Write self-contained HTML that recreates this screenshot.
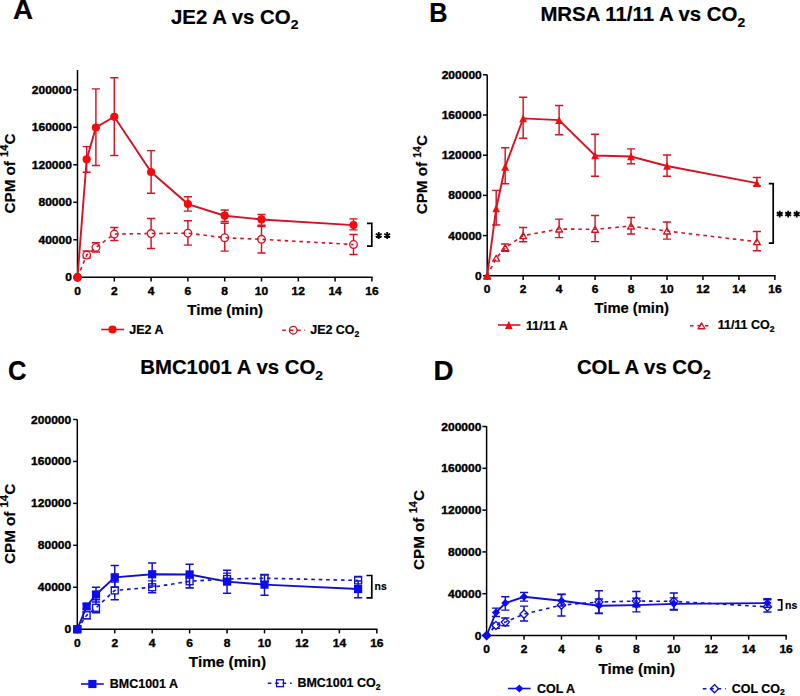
<!DOCTYPE html><html><head><meta charset="utf-8"><style>html,body{margin:0;padding:0;background:#fff;}svg{display:block;}text{font-family:"Liberation Sans", sans-serif;font-weight:bold;fill:#000;stroke:#000;stroke-width:0.2px;}.tl{font-size:11.8px;stroke-width:0.4px;}.lg{font-size:12px;}.xl{font-size:14.6px;}.yl{font-size:15.2px;}.pl{font-size:27.8px;}.st{font-size:19px;}.ns{font-size:11px;}</style></head><body>
<svg width="800" height="696" viewBox="0 0 800 696">
<rect width="800" height="696" fill="#fff"/>
<text transform="translate(12.9 19.25) scale(1 1)" class="pl">A</text>
<text transform="translate(171 23.8) scale(1.04 1)" class="tt" font-size="19.6">JE2 A vs CO<tspan font-size="13.33" dy="5.6">2</tspan></text>
<text transform="translate(15.1 173.5) rotate(-90)" text-anchor="middle" class="yl" font-size="14.95">CPM of <tspan font-size="11.06" dy="-6.88">14</tspan><tspan dy="6.88">C</tspan></text>
<path d="M77.5 70V277.3" stroke="#000" stroke-width="1.5" fill="none"/>
<path d="M76.75 277.3H372.65" stroke="#000" stroke-width="1.5" fill="none"/>
<path d="M73.3 277.3H77.5" stroke="#000" stroke-width="1.5"/>
<text transform="translate(71.9 281.3) scale(1.02 1)" class="tl" text-anchor="end">0</text>
<path d="M73.3 239.8H77.5" stroke="#000" stroke-width="1.5"/>
<text transform="translate(71.9 243.8) scale(1.02 1)" class="tl" text-anchor="end">40000</text>
<path d="M73.3 202.3H77.5" stroke="#000" stroke-width="1.5"/>
<text transform="translate(71.9 206.3) scale(1.02 1)" class="tl" text-anchor="end">80000</text>
<path d="M73.3 164.8H77.5" stroke="#000" stroke-width="1.5"/>
<text transform="translate(71.9 168.8) scale(1.02 1)" class="tl" text-anchor="end">120000</text>
<path d="M73.3 127.3H77.5" stroke="#000" stroke-width="1.5"/>
<text transform="translate(71.9 131.3) scale(1.02 1)" class="tl" text-anchor="end">160000</text>
<path d="M73.3 89.8H77.5" stroke="#000" stroke-width="1.5"/>
<text transform="translate(71.9 93.8) scale(1.02 1)" class="tl" text-anchor="end">200000</text>
<path d="M77.5 277.3V281.5" stroke="#000" stroke-width="1.5"/>
<text transform="translate(77.5 294.5) scale(1.02 1)" class="tl" text-anchor="middle">0</text>
<path d="M114.3 277.3V281.5" stroke="#000" stroke-width="1.5"/>
<text transform="translate(114.3 294.5) scale(1.02 1)" class="tl" text-anchor="middle">2</text>
<path d="M151.1 277.3V281.5" stroke="#000" stroke-width="1.5"/>
<text transform="translate(151.1 294.5) scale(1.02 1)" class="tl" text-anchor="middle">4</text>
<path d="M187.9 277.3V281.5" stroke="#000" stroke-width="1.5"/>
<text transform="translate(187.9 294.5) scale(1.02 1)" class="tl" text-anchor="middle">6</text>
<path d="M224.7 277.3V281.5" stroke="#000" stroke-width="1.5"/>
<text transform="translate(224.7 294.5) scale(1.02 1)" class="tl" text-anchor="middle">8</text>
<path d="M261.5 277.3V281.5" stroke="#000" stroke-width="1.5"/>
<text transform="translate(261.5 294.5) scale(1.02 1)" class="tl" text-anchor="middle">10</text>
<path d="M298.3 277.3V281.5" stroke="#000" stroke-width="1.5"/>
<text transform="translate(298.3 294.5) scale(1.02 1)" class="tl" text-anchor="middle">12</text>
<path d="M335.1 277.3V281.5" stroke="#000" stroke-width="1.5"/>
<text transform="translate(335.1 294.5) scale(1.02 1)" class="tl" text-anchor="middle">14</text>
<path d="M371.9 277.3V281.5" stroke="#000" stroke-width="1.5"/>
<text transform="translate(371.9 294.5) scale(1.02 1)" class="tl" text-anchor="middle">16</text>
<text transform="translate(187.35 314.75) scale(1.03 1)" class="xl">Time (min)</text>
<path d="M86.7 251.05V258.08 M82.6 251.05H90.8 M82.6 258.08H90.8" stroke="#d41424" stroke-width="1.45" fill="none"/>
<path d="M95.9 242.71V252.08 M91.8 242.71H100 M91.8 252.08H100" stroke="#d41424" stroke-width="1.45" fill="none"/>
<path d="M114.3 227.52V240.46 M110.2 227.52H118.4 M110.2 240.46H118.4" stroke="#d41424" stroke-width="1.45" fill="none"/>
<path d="M151.1 218.52V248.52 M147 218.52H155.2 M147 248.52H155.2" stroke="#d41424" stroke-width="1.45" fill="none"/>
<path d="M187.9 220.68V245.14 M183.8 220.68H192 M183.8 245.14H192" stroke="#d41424" stroke-width="1.45" fill="none"/>
<path d="M224.7 223.3V251.14 M220.6 223.3H228.8 M220.6 251.14H228.8" stroke="#d41424" stroke-width="1.45" fill="none"/>
<path d="M261.5 226.49V252.93 M257.4 226.49H265.6 M257.4 252.93H265.6" stroke="#d41424" stroke-width="1.45" fill="none"/>
<path d="M353.5 234.55V254.52 M349.4 234.55H357.6 M349.4 254.52H357.6" stroke="#d41424" stroke-width="1.45" fill="none"/>
<circle cx="77.5" cy="277.3" r="3.8" fill="#fff" stroke="#d41424" stroke-width="1.35"/>
<circle cx="86.7" cy="255.08" r="3.8" fill="#fff" stroke="#d41424" stroke-width="1.35"/>
<circle cx="95.9" cy="247.49" r="3.8" fill="#fff" stroke="#d41424" stroke-width="1.35"/>
<circle cx="114.3" cy="234.08" r="3.8" fill="#fff" stroke="#d41424" stroke-width="1.35"/>
<circle cx="151.1" cy="233.52" r="3.8" fill="#fff" stroke="#d41424" stroke-width="1.35"/>
<circle cx="187.9" cy="233.14" r="3.8" fill="#fff" stroke="#d41424" stroke-width="1.35"/>
<circle cx="224.7" cy="237.74" r="3.8" fill="#fff" stroke="#d41424" stroke-width="1.35"/>
<circle cx="261.5" cy="239.33" r="3.8" fill="#fff" stroke="#d41424" stroke-width="1.35"/>
<circle cx="353.5" cy="244.49" r="3.8" fill="#fff" stroke="#d41424" stroke-width="1.35"/>
<path d="M77.5 277.3 L86.7 255.08 L95.9 247.49 L114.3 234.08 L151.1 233.52 L187.9 233.14 L224.7 237.74 L261.5 239.33 L353.5 244.49" stroke="#d41424" stroke-width="1.6" fill="none" stroke-dasharray="3.6 3.8"/>
<path d="M86.7 146.61V172.21 M82.6 146.61H90.8 M82.6 172.21H90.8" stroke="#d41424" stroke-width="1.45" fill="none"/>
<path d="M95.9 88.86V165.5 M91.8 88.86H100 M91.8 165.5H100" stroke="#d41424" stroke-width="1.45" fill="none"/>
<path d="M114.3 77.8V155.52 M110.2 77.8H118.4 M110.2 155.52H118.4" stroke="#d41424" stroke-width="1.45" fill="none"/>
<path d="M151.1 150.64V193.3 M147 150.64H155.2 M147 193.3H155.2" stroke="#d41424" stroke-width="1.45" fill="none"/>
<path d="M187.9 196.68V211.11 M183.8 196.68H192 M183.8 211.11H192" stroke="#d41424" stroke-width="1.45" fill="none"/>
<path d="M224.7 210.08V221.52 M220.6 210.08H228.8 M220.6 221.52H228.8" stroke="#d41424" stroke-width="1.45" fill="none"/>
<path d="M261.5 214.49V225.27 M257.4 214.49H265.6 M257.4 225.27H265.6" stroke="#d41424" stroke-width="1.45" fill="none"/>
<path d="M353.5 218.89V229.86 M349.4 218.89H357.6 M349.4 229.86H357.6" stroke="#d41424" stroke-width="1.45" fill="none"/>
<path d="M77.5 277.3 L86.7 159.27 L95.9 127.49 L114.3 116.8 L151.1 172.02 L187.9 204.08 L224.7 215.71 L261.5 219.46 L353.5 225.08" stroke="#d41424" stroke-width="1.9" fill="none"/>
<circle cx="77.5" cy="277.3" r="4.1" fill="#f20c0c"/>
<circle cx="86.7" cy="159.27" r="4.1" fill="#f20c0c"/>
<circle cx="95.9" cy="127.49" r="4.1" fill="#f20c0c"/>
<circle cx="114.3" cy="116.8" r="4.1" fill="#f20c0c"/>
<circle cx="151.1" cy="172.02" r="4.1" fill="#f20c0c"/>
<circle cx="187.9" cy="204.08" r="4.1" fill="#f20c0c"/>
<circle cx="224.7" cy="215.71" r="4.1" fill="#f20c0c"/>
<circle cx="261.5" cy="219.46" r="4.1" fill="#f20c0c"/>
<circle cx="353.5" cy="225.08" r="4.1" fill="#f20c0c"/>
<path d="M367 223.4H371.8V246.1H367" stroke="#000" stroke-width="1.7" fill="none"/>
<path d="M378.7 232.1L378.7 238.9M375.76 233.8L381.64 237.2M375.76 237.2L381.64 233.8" stroke="#000" stroke-width="1.8" fill="none"/>
<path d="M387.2 232.1L387.2 238.9M384.26 233.8L390.14 237.2M384.26 237.2L390.14 233.8" stroke="#000" stroke-width="1.8" fill="none"/>
<path d="M101.2 329.5H124.2" stroke="#d41424" stroke-width="1.6"/>
<circle cx="112.5" cy="329.5" r="4.1" fill="#f20c0c"/>
<text transform="translate(129.2 334) scale(1.04 1)" class="lg">JE2 A</text>
<circle cx="293.2" cy="330.2" r="3.8" fill="#fff" stroke="#d41424" stroke-width="1.35"/>
<path d="M282.3 330.2H305.2" stroke="#d41424" stroke-width="1.6" stroke-dasharray="3.6 3.8"/>
<text transform="translate(310.2 334) scale(1.04 1)" class="lg">JE2 CO<tspan font-size="8.3" dy="2.6">2</tspan></text>
<text transform="translate(429.35 21.9) scale(0.91 1)" class="pl">B</text>
<text transform="translate(540.4 21) scale(1.04 1)" class="tt" font-size="19.6">MRSA 11/11 A vs CO<tspan font-size="13.33" dy="5.6">2</tspan></text>
<text transform="translate(427.1 174.7) rotate(-90)" text-anchor="middle" class="yl" font-size="14.1">CPM of <tspan font-size="10.43" dy="-6.49">14</tspan><tspan dy="6.49">C</tspan></text>
<path d="M487.2 74.8V275.8" stroke="#000" stroke-width="1.5" fill="none"/>
<path d="M486.45 275.8H775.63" stroke="#000" stroke-width="1.5" fill="none"/>
<path d="M483 275.8H487.2" stroke="#000" stroke-width="1.5"/>
<text transform="translate(481.8 279.8) scale(1.02 1)" class="tl" text-anchor="end">0</text>
<path d="M483 235.6H487.2" stroke="#000" stroke-width="1.5"/>
<text transform="translate(481.8 239.6) scale(1.02 1)" class="tl" text-anchor="end">40000</text>
<path d="M483 195.4H487.2" stroke="#000" stroke-width="1.5"/>
<text transform="translate(481.8 199.4) scale(1.02 1)" class="tl" text-anchor="end">80000</text>
<path d="M483 155.2H487.2" stroke="#000" stroke-width="1.5"/>
<text transform="translate(481.8 159.2) scale(1.02 1)" class="tl" text-anchor="end">120000</text>
<path d="M483 115H487.2" stroke="#000" stroke-width="1.5"/>
<text transform="translate(481.8 119) scale(1.02 1)" class="tl" text-anchor="end">160000</text>
<path d="M483 74.8H487.2" stroke="#000" stroke-width="1.5"/>
<text transform="translate(481.8 78.8) scale(1.02 1)" class="tl" text-anchor="end">200000</text>
<path d="M487.2 275.8V280" stroke="#000" stroke-width="1.5"/>
<text transform="translate(487.2 292.8) scale(1.02 1)" class="tl" text-anchor="middle">0</text>
<path d="M523.16 275.8V280" stroke="#000" stroke-width="1.5"/>
<text transform="translate(523.16 292.8) scale(1.02 1)" class="tl" text-anchor="middle">2</text>
<path d="M559.12 275.8V280" stroke="#000" stroke-width="1.5"/>
<text transform="translate(559.12 292.8) scale(1.02 1)" class="tl" text-anchor="middle">4</text>
<path d="M595.08 275.8V280" stroke="#000" stroke-width="1.5"/>
<text transform="translate(595.08 292.8) scale(1.02 1)" class="tl" text-anchor="middle">6</text>
<path d="M631.04 275.8V280" stroke="#000" stroke-width="1.5"/>
<text transform="translate(631.04 292.8) scale(1.02 1)" class="tl" text-anchor="middle">8</text>
<path d="M667 275.8V280" stroke="#000" stroke-width="1.5"/>
<text transform="translate(667 292.8) scale(1.02 1)" class="tl" text-anchor="middle">10</text>
<path d="M702.96 275.8V280" stroke="#000" stroke-width="1.5"/>
<text transform="translate(702.96 292.8) scale(1.02 1)" class="tl" text-anchor="middle">12</text>
<path d="M738.92 275.8V280" stroke="#000" stroke-width="1.5"/>
<text transform="translate(738.92 292.8) scale(1.02 1)" class="tl" text-anchor="middle">14</text>
<path d="M774.88 275.8V280" stroke="#000" stroke-width="1.5"/>
<text transform="translate(774.88 292.8) scale(1.02 1)" class="tl" text-anchor="middle">16</text>
<text transform="translate(594.6 312.5) scale(1.01 1)" class="xl">Time (min)</text>
<path d="M505.18 244.04V251.18 M501.08 244.04H509.28 M501.08 251.18H509.28" stroke="#d41424" stroke-width="1.45" fill="none"/>
<path d="M523.16 227.56V241.83 M519.06 227.56H527.26 M519.06 241.83H527.26" stroke="#d41424" stroke-width="1.45" fill="none"/>
<path d="M559.12 219.12V237.61 M555.02 219.12H563.22 M555.02 237.61H563.22" stroke="#d41424" stroke-width="1.45" fill="none"/>
<path d="M595.08 215.5V241.63 M590.98 215.5H599.18 M590.98 241.63H599.18" stroke="#d41424" stroke-width="1.45" fill="none"/>
<path d="M631.04 217.51V234.09 M626.94 217.51H635.14 M626.94 234.09H635.14" stroke="#d41424" stroke-width="1.45" fill="none"/>
<path d="M667 221.93V239.12 M662.9 221.93H671.1 M662.9 239.12H671.1" stroke="#d41424" stroke-width="1.45" fill="none"/>
<path d="M756.9 231.58V250.68 M752.8 231.58H761 M752.8 250.68H761" stroke="#d41424" stroke-width="1.45" fill="none"/>
<path d="M487.2 272.85 L490.65 278.75 L483.75 278.75Z" fill="#fff" stroke="#d41424" stroke-width="1.35" stroke-linejoin="round"/>
<path d="M496.19 255.26 L499.64 261.16 L492.74 261.16Z" fill="#fff" stroke="#d41424" stroke-width="1.35" stroke-linejoin="round"/>
<path d="M505.18 244.81 L508.63 250.71 L501.73 250.71Z" fill="#fff" stroke="#d41424" stroke-width="1.35" stroke-linejoin="round"/>
<path d="M523.16 232.65 L526.61 238.55 L519.71 238.55Z" fill="#fff" stroke="#d41424" stroke-width="1.35" stroke-linejoin="round"/>
<path d="M559.12 226.12 L562.57 232.02 L555.67 232.02Z" fill="#fff" stroke="#d41424" stroke-width="1.35" stroke-linejoin="round"/>
<path d="M595.08 226.32 L598.53 232.22 L591.63 232.22Z" fill="#fff" stroke="#d41424" stroke-width="1.35" stroke-linejoin="round"/>
<path d="M631.04 223.1 L634.49 229 L627.59 229Z" fill="#fff" stroke="#d41424" stroke-width="1.35" stroke-linejoin="round"/>
<path d="M667 228.13 L670.45 234.03 L663.55 234.03Z" fill="#fff" stroke="#d41424" stroke-width="1.35" stroke-linejoin="round"/>
<path d="M756.9 238.78 L760.35 244.68 L753.45 244.68Z" fill="#fff" stroke="#d41424" stroke-width="1.35" stroke-linejoin="round"/>
<path d="M487.2 275.8 L496.19 258.21 L505.18 247.76 L523.16 235.6 L559.12 229.07 L595.08 229.27 L631.04 226.05 L667 231.08 L756.9 241.73" stroke="#d41424" stroke-width="1.6" fill="none" stroke-dasharray="3.6 3.8"/>
<path d="M496.19 190.38V224.95 M492.09 190.38H500.29 M492.09 224.95H500.29" stroke="#d41424" stroke-width="1.45" fill="none"/>
<path d="M505.18 147.66V183.84 M501.08 147.66H509.28 M501.08 183.84H509.28" stroke="#d41424" stroke-width="1.45" fill="none"/>
<path d="M523.16 97.31V138.22 M519.06 97.31H527.26 M519.06 138.22H527.26" stroke="#d41424" stroke-width="1.45" fill="none"/>
<path d="M559.12 105.55V134.8 M555.02 105.55H563.22 M555.02 134.8H563.22" stroke="#d41424" stroke-width="1.45" fill="none"/>
<path d="M595.08 134.3V176.2 M590.98 134.3H599.18 M590.98 176.2H599.18" stroke="#d41424" stroke-width="1.45" fill="none"/>
<path d="M631.04 148.87V163.74 M626.94 148.87H635.14 M626.94 163.74H635.14" stroke="#d41424" stroke-width="1.45" fill="none"/>
<path d="M667 154.9V176.2 M662.9 154.9H671.1 M662.9 176.2H671.1" stroke="#d41424" stroke-width="1.45" fill="none"/>
<path d="M756.9 177.41V185.85 M752.8 177.41H761 M752.8 185.85H761" stroke="#d41424" stroke-width="1.45" fill="none"/>
<path d="M487.2 275.8 L496.19 208.47 L505.18 166.76 L523.16 118.42 L559.12 120.13 L595.08 155.45 L631.04 156.46 L667 165.95 L756.9 183.14" stroke="#d41424" stroke-width="1.9" fill="none"/>
<path d="M487.2 271.9 L491.1 279.7 L483.3 279.7Z" fill="#f20c0c"/>
<path d="M496.19 204.56 L500.09 212.37 L492.29 212.37Z" fill="#f20c0c"/>
<path d="M505.18 162.86 L509.08 170.66 L501.28 170.66Z" fill="#f20c0c"/>
<path d="M523.16 114.52 L527.06 122.32 L519.26 122.32Z" fill="#f20c0c"/>
<path d="M559.12 116.23 L563.02 124.03 L555.22 124.03Z" fill="#f20c0c"/>
<path d="M595.08 151.55 L598.98 159.35 L591.18 159.35Z" fill="#f20c0c"/>
<path d="M631.04 152.56 L634.94 160.36 L627.14 160.36Z" fill="#f20c0c"/>
<path d="M667 162.05 L670.9 169.85 L663.1 169.85Z" fill="#f20c0c"/>
<path d="M756.9 179.24 L760.8 187.04 L753 187.04Z" fill="#f20c0c"/>
<path d="M768.8 183.7H773.2V243.1H768.8" stroke="#000" stroke-width="1.7" fill="none"/>
<path d="M779.7 210.7L779.7 217.5M776.76 212.4L782.64 215.8M776.76 215.8L782.64 212.4" stroke="#000" stroke-width="1.8" fill="none"/>
<path d="M788.2 210.7L788.2 217.5M785.26 212.4L791.14 215.8M785.26 215.8L791.14 212.4" stroke="#000" stroke-width="1.8" fill="none"/>
<path d="M796.7 210.7L796.7 217.5M793.76 212.4L799.64 215.8M793.76 215.8L799.64 212.4" stroke="#000" stroke-width="1.8" fill="none"/>
<path d="M497.9 325H520.4" stroke="#d41424" stroke-width="1.6"/>
<path d="M508.8 321.1 L512.7 328.9 L504.9 328.9Z" fill="#f20c0c"/>
<text transform="translate(526 329.7) scale(1.04 1)" class="lg">11/11 A</text>
<path d="M701.5 322.85 L704.95 328.75 L698.05 328.75Z" fill="#fff" stroke="#d41424" stroke-width="1.35" stroke-linejoin="round"/>
<path d="M690 325.8H712.4" stroke="#d41424" stroke-width="1.6" stroke-dasharray="3.6 3.8"/>
<text transform="translate(717.7 329.4) scale(1.04 1)" class="lg">11/11 CO<tspan font-size="8.3" dy="2.6">2</tspan></text>
<text transform="translate(7.9 379.6) scale(0.92 1)" class="pl">C</text>
<text transform="translate(140.2 374.2) scale(1.04 1)" class="tt" font-size="19.6">BMC1001 A vs CO<tspan font-size="13.33" dy="5.6">2</tspan></text>
<text transform="translate(14.9 523.9) rotate(-90)" text-anchor="middle" class="yl" font-size="15.2">CPM of <tspan font-size="11.25" dy="-6.99">14</tspan><tspan dy="6.99">C</tspan></text>
<path d="M77.3 419.5V629.2" stroke="#000" stroke-width="1.5" fill="none"/>
<path d="M76.55 629.2H377.57" stroke="#000" stroke-width="1.5" fill="none"/>
<path d="M73.1 629.2H77.3" stroke="#000" stroke-width="1.5"/>
<text transform="translate(71.2 633.2) scale(1.02 1)" class="tl" text-anchor="end">0</text>
<path d="M73.1 587.26H77.3" stroke="#000" stroke-width="1.5"/>
<text transform="translate(71.2 591.26) scale(1.02 1)" class="tl" text-anchor="end">40000</text>
<path d="M73.1 545.32H77.3" stroke="#000" stroke-width="1.5"/>
<text transform="translate(71.2 549.32) scale(1.02 1)" class="tl" text-anchor="end">80000</text>
<path d="M73.1 503.38H77.3" stroke="#000" stroke-width="1.5"/>
<text transform="translate(71.2 507.38) scale(1.02 1)" class="tl" text-anchor="end">120000</text>
<path d="M73.1 461.44H77.3" stroke="#000" stroke-width="1.5"/>
<text transform="translate(71.2 465.44) scale(1.02 1)" class="tl" text-anchor="end">160000</text>
<path d="M73.1 419.5H77.3" stroke="#000" stroke-width="1.5"/>
<text transform="translate(71.2 423.5) scale(1.02 1)" class="tl" text-anchor="end">200000</text>
<path d="M77.3 629.2V633.4" stroke="#000" stroke-width="1.5"/>
<text transform="translate(77.3 646.6) scale(1.02 1)" class="tl" text-anchor="middle">0</text>
<path d="M114.74 629.2V633.4" stroke="#000" stroke-width="1.5"/>
<text transform="translate(114.74 646.6) scale(1.02 1)" class="tl" text-anchor="middle">2</text>
<path d="M152.18 629.2V633.4" stroke="#000" stroke-width="1.5"/>
<text transform="translate(152.18 646.6) scale(1.02 1)" class="tl" text-anchor="middle">4</text>
<path d="M189.62 629.2V633.4" stroke="#000" stroke-width="1.5"/>
<text transform="translate(189.62 646.6) scale(1.02 1)" class="tl" text-anchor="middle">6</text>
<path d="M227.06 629.2V633.4" stroke="#000" stroke-width="1.5"/>
<text transform="translate(227.06 646.6) scale(1.02 1)" class="tl" text-anchor="middle">8</text>
<path d="M264.5 629.2V633.4" stroke="#000" stroke-width="1.5"/>
<text transform="translate(264.5 646.6) scale(1.02 1)" class="tl" text-anchor="middle">10</text>
<path d="M301.94 629.2V633.4" stroke="#000" stroke-width="1.5"/>
<text transform="translate(301.94 646.6) scale(1.02 1)" class="tl" text-anchor="middle">12</text>
<path d="M339.38 629.2V633.4" stroke="#000" stroke-width="1.5"/>
<text transform="translate(339.38 646.6) scale(1.02 1)" class="tl" text-anchor="middle">14</text>
<path d="M376.82 629.2V633.4" stroke="#000" stroke-width="1.5"/>
<text transform="translate(376.82 646.6) scale(1.02 1)" class="tl" text-anchor="middle">16</text>
<text transform="translate(188.85 666.75) scale(1.05 1)" class="xl">Time (min)</text>
<path d="M86.66 611.9V618.72 M82.56 611.9H90.76 M82.56 618.72H90.76" stroke="#1010d0" stroke-width="1.45" fill="none"/>
<path d="M96.02 599.84V612.84 M91.92 599.84H100.12 M91.92 612.84H100.12" stroke="#1010d0" stroke-width="1.45" fill="none"/>
<path d="M114.74 581.91V599.84 M110.64 581.91H118.84 M110.64 599.84H118.84" stroke="#1010d0" stroke-width="1.45" fill="none"/>
<path d="M152.18 580.86V592.82 M148.08 580.86H156.28 M148.08 592.82H156.28" stroke="#1010d0" stroke-width="1.45" fill="none"/>
<path d="M189.62 576.46V587.89 M185.52 576.46H193.72 M185.52 587.89H193.72" stroke="#1010d0" stroke-width="1.45" fill="none"/>
<path d="M227.06 573.11V583.07 M222.96 573.11H231.16 M222.96 583.07H231.16" stroke="#1010d0" stroke-width="1.45" fill="none"/>
<path d="M264.5 574.47V580.97 M260.4 574.47H268.6 M260.4 580.97H268.6" stroke="#1010d0" stroke-width="1.45" fill="none"/>
<path d="M358.1 576.57V583.07 M354 576.57H362.2 M354 583.07H362.2" stroke="#1010d0" stroke-width="1.45" fill="none"/>
<rect x="73.85" y="625.75" width="6.9" height="6.9" fill="#fff" stroke="#1010d0" stroke-width="1.35"/>
<rect x="83.21" y="611.8" width="6.9" height="6.9" fill="#fff" stroke="#1010d0" stroke-width="1.35"/>
<rect x="92.57" y="604.36" width="6.9" height="6.9" fill="#fff" stroke="#1010d0" stroke-width="1.35"/>
<rect x="111.29" y="586.96" width="6.9" height="6.9" fill="#fff" stroke="#1010d0" stroke-width="1.35"/>
<rect x="148.73" y="583.81" width="6.9" height="6.9" fill="#fff" stroke="#1010d0" stroke-width="1.35"/>
<rect x="186.17" y="577.83" width="6.9" height="6.9" fill="#fff" stroke="#1010d0" stroke-width="1.35"/>
<rect x="223.61" y="575.53" width="6.9" height="6.9" fill="#fff" stroke="#1010d0" stroke-width="1.35"/>
<rect x="261.05" y="574.79" width="6.9" height="6.9" fill="#fff" stroke="#1010d0" stroke-width="1.35"/>
<rect x="354.65" y="576.99" width="6.9" height="6.9" fill="#fff" stroke="#1010d0" stroke-width="1.35"/>
<path d="M77.3 629.2 L86.66 615.25 L96.02 607.81 L114.74 590.41 L152.18 587.26 L189.62 581.28 L227.06 578.98 L264.5 578.24 L358.1 580.44" stroke="#1010d0" stroke-width="1.6" fill="none" stroke-dasharray="3.6 3.8"/>
<path d="M86.66 604.04V609.28 M82.56 604.04H90.76 M82.56 609.28H90.76" stroke="#1010d0" stroke-width="1.45" fill="none"/>
<path d="M96.02 587.26V601.94 M91.92 587.26H100.12 M91.92 601.94H100.12" stroke="#1010d0" stroke-width="1.45" fill="none"/>
<path d="M114.74 565.45V587.26 M110.64 565.45H118.84 M110.64 587.26H118.84" stroke="#1010d0" stroke-width="1.45" fill="none"/>
<path d="M152.18 562.93V585.9 M148.08 562.93H156.28 M148.08 585.9H156.28" stroke="#1010d0" stroke-width="1.45" fill="none"/>
<path d="M189.62 564.3V587.89 M185.52 564.3H193.72 M185.52 587.89H193.72" stroke="#1010d0" stroke-width="1.45" fill="none"/>
<path d="M227.06 570.27V593.24 M222.96 570.27H231.16 M222.96 593.24H231.16" stroke="#1010d0" stroke-width="1.45" fill="none"/>
<path d="M264.5 574.68V595.23 M260.4 574.68H268.6 M260.4 595.23H268.6" stroke="#1010d0" stroke-width="1.45" fill="none"/>
<path d="M358.1 580.97V597.75 M354 580.97H362.2 M354 597.75H362.2" stroke="#1010d0" stroke-width="1.45" fill="none"/>
<path d="M77.3 629.2 L86.66 606.45 L96.02 594.49 L114.74 577.3 L152.18 574.26 L189.62 574.47 L227.06 581.6 L264.5 584.64 L358.1 589.04" stroke="#1010d0" stroke-width="1.9" fill="none"/>
<rect x="73.2" y="625.1" width="8.2" height="8.2" fill="#0c0cf0"/>
<rect x="82.56" y="602.35" width="8.2" height="8.2" fill="#0c0cf0"/>
<rect x="91.92" y="590.39" width="8.2" height="8.2" fill="#0c0cf0"/>
<rect x="110.64" y="573.2" width="8.2" height="8.2" fill="#0c0cf0"/>
<rect x="148.08" y="570.16" width="8.2" height="8.2" fill="#0c0cf0"/>
<rect x="185.52" y="570.37" width="8.2" height="8.2" fill="#0c0cf0"/>
<rect x="222.96" y="577.5" width="8.2" height="8.2" fill="#0c0cf0"/>
<rect x="260.4" y="580.54" width="8.2" height="8.2" fill="#0c0cf0"/>
<rect x="354" y="584.94" width="8.2" height="8.2" fill="#0c0cf0"/>
<path d="M366.5 575.5H371.8V597.8H366.5" stroke="#000" stroke-width="1.7" fill="none"/>
<text transform="translate(374.5 590.4) scale(0.95 1)" class="ns">ns</text>
<path d="M81 684H103.8" stroke="#1010d0" stroke-width="1.6"/>
<rect x="88.3" y="679.9" width="8.2" height="8.2" fill="#0c0cf0"/>
<text transform="translate(109.8 688.3) scale(1.04 1)" class="lg">BMC1001 A</text>
<rect x="276.55" y="679.75" width="6.9" height="6.9" fill="#fff" stroke="#1010d0" stroke-width="1.35"/>
<path d="M267.8 683.2H291.6" stroke="#1010d0" stroke-width="1.6" stroke-dasharray="3.6 3.8"/>
<text transform="translate(297.4 686.9) scale(1.04 1)" class="lg">BMC1001 CO<tspan font-size="8.3" dy="2.6">2</tspan></text>
<text transform="translate(433.4 379.8) scale(1 1)" class="pl">D</text>
<text transform="translate(576.9 373.8) scale(1.04 1)" class="tt" font-size="19.6">COL A vs CO<tspan font-size="13.33" dy="5.6">2</tspan></text>
<text transform="translate(424.2 529.95) rotate(-90)" text-anchor="middle" class="yl" font-size="15.05">CPM of <tspan font-size="11.14" dy="-6.92">14</tspan><tspan dy="6.92">C</tspan></text>
<path d="M486.6 426.2V635.5" stroke="#000" stroke-width="1.5" fill="none"/>
<path d="M485.85 635.5H786.87" stroke="#000" stroke-width="1.5" fill="none"/>
<path d="M482.4 635.5H486.6" stroke="#000" stroke-width="1.5"/>
<text transform="translate(481.4 639.5) scale(1.02 1)" class="tl" text-anchor="end">0</text>
<path d="M482.4 593.7H486.6" stroke="#000" stroke-width="1.5"/>
<text transform="translate(481.4 597.7) scale(1.02 1)" class="tl" text-anchor="end">40000</text>
<path d="M482.4 551.9H486.6" stroke="#000" stroke-width="1.5"/>
<text transform="translate(481.4 555.9) scale(1.02 1)" class="tl" text-anchor="end">80000</text>
<path d="M482.4 510.1H486.6" stroke="#000" stroke-width="1.5"/>
<text transform="translate(481.4 514.1) scale(1.02 1)" class="tl" text-anchor="end">120000</text>
<path d="M482.4 468.3H486.6" stroke="#000" stroke-width="1.5"/>
<text transform="translate(481.4 472.3) scale(1.02 1)" class="tl" text-anchor="end">160000</text>
<path d="M482.4 426.5H486.6" stroke="#000" stroke-width="1.5"/>
<text transform="translate(481.4 430.5) scale(1.02 1)" class="tl" text-anchor="end">200000</text>
<path d="M486.6 635.5V639.7" stroke="#000" stroke-width="1.5"/>
<text transform="translate(486.6 653) scale(1.02 1)" class="tl" text-anchor="middle">0</text>
<path d="M524.04 635.5V639.7" stroke="#000" stroke-width="1.5"/>
<text transform="translate(524.04 653) scale(1.02 1)" class="tl" text-anchor="middle">2</text>
<path d="M561.48 635.5V639.7" stroke="#000" stroke-width="1.5"/>
<text transform="translate(561.48 653) scale(1.02 1)" class="tl" text-anchor="middle">4</text>
<path d="M598.92 635.5V639.7" stroke="#000" stroke-width="1.5"/>
<text transform="translate(598.92 653) scale(1.02 1)" class="tl" text-anchor="middle">6</text>
<path d="M636.36 635.5V639.7" stroke="#000" stroke-width="1.5"/>
<text transform="translate(636.36 653) scale(1.02 1)" class="tl" text-anchor="middle">8</text>
<path d="M673.8 635.5V639.7" stroke="#000" stroke-width="1.5"/>
<text transform="translate(673.8 653) scale(1.02 1)" class="tl" text-anchor="middle">10</text>
<path d="M711.24 635.5V639.7" stroke="#000" stroke-width="1.5"/>
<text transform="translate(711.24 653) scale(1.02 1)" class="tl" text-anchor="middle">12</text>
<path d="M748.68 635.5V639.7" stroke="#000" stroke-width="1.5"/>
<text transform="translate(748.68 653) scale(1.02 1)" class="tl" text-anchor="middle">14</text>
<path d="M786.12 635.5V639.7" stroke="#000" stroke-width="1.5"/>
<text transform="translate(786.12 653) scale(1.02 1)" class="tl" text-anchor="middle">16</text>
<text transform="translate(598.6 673.5) scale(1.04 1)" class="xl">Time (min)</text>
<path d="M495.96 622.96V628.18 M491.86 622.96H500.06 M491.86 628.18H500.06" stroke="#1010d0" stroke-width="1.45" fill="none"/>
<path d="M505.32 618.05V625.68 M501.22 618.05H509.42 M501.22 625.68H509.42" stroke="#1010d0" stroke-width="1.45" fill="none"/>
<path d="M524.04 606.14V621.08 M519.94 606.14H528.14 M519.94 621.08H528.14" stroke="#1010d0" stroke-width="1.45" fill="none"/>
<path d="M561.48 594.12V616.06 M557.38 594.12H565.58 M557.38 616.06H565.58" stroke="#1010d0" stroke-width="1.45" fill="none"/>
<path d="M598.92 590.67V613.55 M594.82 590.67H603.02 M594.82 613.55H603.02" stroke="#1010d0" stroke-width="1.45" fill="none"/>
<path d="M636.36 591.4V606.76 M632.26 591.4H640.46 M632.26 606.76H640.46" stroke="#1010d0" stroke-width="1.45" fill="none"/>
<path d="M673.8 593.07V609.58 M669.7 593.07H677.9 M669.7 609.58H677.9" stroke="#1010d0" stroke-width="1.45" fill="none"/>
<path d="M767.4 599.66V611.99 M763.3 599.66H771.5 M763.3 611.99H771.5" stroke="#1010d0" stroke-width="1.45" fill="none"/>
<path d="M486.6 631.4L490.7 635.5L486.6 639.6L482.5 635.5Z" fill="#fff" stroke="#1010d0" stroke-width="1.35"/>
<path d="M495.96 621.37L500.06 625.47L495.96 629.57L491.86 625.47Z" fill="#fff" stroke="#1010d0" stroke-width="1.35"/>
<path d="M505.32 618.02L509.42 622.12L505.32 626.22L501.22 622.12Z" fill="#fff" stroke="#1010d0" stroke-width="1.35"/>
<path d="M524.04 609.98L528.14 614.08L524.04 618.18L519.94 614.08Z" fill="#fff" stroke="#1010d0" stroke-width="1.35"/>
<path d="M561.48 600.99L565.58 605.09L561.48 609.19L557.38 605.09Z" fill="#fff" stroke="#1010d0" stroke-width="1.35"/>
<path d="M598.92 597.96L603.02 602.06L598.92 606.16L594.82 602.06Z" fill="#fff" stroke="#1010d0" stroke-width="1.35"/>
<path d="M636.36 596.91L640.46 601.01L636.36 605.12L632.26 601.01Z" fill="#fff" stroke="#1010d0" stroke-width="1.35"/>
<path d="M673.8 597.23L677.9 601.33L673.8 605.43L669.7 601.33Z" fill="#fff" stroke="#1010d0" stroke-width="1.35"/>
<path d="M767.4 602.77L771.5 606.87L767.4 610.97L763.3 606.87Z" fill="#fff" stroke="#1010d0" stroke-width="1.35"/>
<path d="M486.6 635.5 L495.96 625.47 L505.32 622.12 L524.04 614.08 L561.48 605.09 L598.92 602.06 L636.36 601.01 L673.8 601.33 L767.4 606.87" stroke="#1010d0" stroke-width="1.6" fill="none" stroke-dasharray="3.6 3.8"/>
<path d="M495.96 608.12V616.48 M491.86 608.12H500.06 M491.86 616.48H500.06" stroke="#1010d0" stroke-width="1.45" fill="none"/>
<path d="M505.32 596.73V610.11 M501.22 596.73H509.42 M501.22 610.11H509.42" stroke="#1010d0" stroke-width="1.45" fill="none"/>
<path d="M524.04 592.55V601.12 M519.94 592.55H528.14 M519.94 601.12H528.14" stroke="#1010d0" stroke-width="1.45" fill="none"/>
<path d="M561.48 594.54V606.14 M557.38 594.54H565.58 M557.38 606.14H565.58" stroke="#1010d0" stroke-width="1.45" fill="none"/>
<path d="M598.92 598.92V613.14 M594.82 598.92H603.02 M594.82 613.14H603.02" stroke="#1010d0" stroke-width="1.45" fill="none"/>
<path d="M636.36 598.3V611.88 M632.26 598.3H640.46 M632.26 611.88H640.46" stroke="#1010d0" stroke-width="1.45" fill="none"/>
<path d="M673.8 597.88V610.11 M669.7 597.88H677.9 M669.7 610.11H677.9" stroke="#1010d0" stroke-width="1.45" fill="none"/>
<path d="M767.4 598.82V607.28 M763.3 598.82H771.5 M763.3 607.28H771.5" stroke="#1010d0" stroke-width="1.45" fill="none"/>
<path d="M486.6 635.5 L495.96 612.51 L505.32 603.11 L524.04 596.73 L561.48 600.7 L598.92 605.72 L636.36 605.09 L673.8 603.84 L767.4 603.11" stroke="#1010d0" stroke-width="1.9" fill="none"/>
<path d="M486.6 631.5L490.7 635.5L486.6 639.5L482.5 635.5Z" fill="#0c0cf0"/>
<path d="M495.96 608.51L500.06 612.51L495.96 616.51L491.86 612.51Z" fill="#0c0cf0"/>
<path d="M505.32 599.11L509.42 603.11L505.32 607.11L501.22 603.11Z" fill="#0c0cf0"/>
<path d="M524.04 592.73L528.14 596.73L524.04 600.73L519.94 596.73Z" fill="#0c0cf0"/>
<path d="M561.48 596.7L565.58 600.7L561.48 604.7L557.38 600.7Z" fill="#0c0cf0"/>
<path d="M598.92 601.72L603.02 605.72L598.92 609.72L594.82 605.72Z" fill="#0c0cf0"/>
<path d="M636.36 601.09L640.46 605.09L636.36 609.09L632.26 605.09Z" fill="#0c0cf0"/>
<path d="M673.8 599.84L677.9 603.84L673.8 607.84L669.7 603.84Z" fill="#0c0cf0"/>
<path d="M767.4 599.11L771.5 603.11L767.4 607.11L763.3 603.11Z" fill="#0c0cf0"/>
<path d="M777.6 599.8H781.7V610H777.6" stroke="#000" stroke-width="1.7" fill="none"/>
<text transform="translate(785 609.2) scale(0.95 1)" class="ns">ns</text>
<path d="M507.9 688.5H530.6" stroke="#1010d0" stroke-width="1.6"/>
<path d="M519.3 684.5L523.4 688.5L519.3 692.5L515.2 688.5Z" fill="#0c0cf0"/>
<text transform="translate(537 692.5) scale(1.04 1)" class="lg">COL A</text>
<path d="M714.5 684.6L718.6 688.7L714.5 692.8L710.4 688.7Z" fill="#fff" stroke="#1010d0" stroke-width="1.35"/>
<path d="M702.8 688.7H725.7" stroke="#1010d0" stroke-width="1.6" stroke-dasharray="3.6 3.8"/>
<text transform="translate(731.8 692.5) scale(1.04 1)" class="lg">COL CO<tspan font-size="8.3" dy="2.6">2</tspan></text>
</svg></body></html>
